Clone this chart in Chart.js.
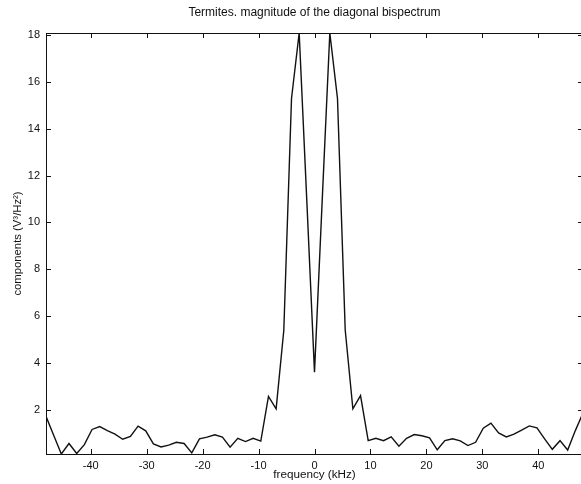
<!DOCTYPE html>
<html>
<head>
<meta charset="utf-8">
<title>Termites - diagonal bispectrum</title>
<script src="https://cdn.jsdelivr.net/npm/chart.js@4.4.1/dist/chart.umd.min.js"></script>
<style>
  html, body { margin: 0; padding: 0; background: #fff; overflow: hidden; }
  #wrap { width: 581px; height: 484px; overflow: hidden; }
</style>
</head>
<body>
<div id="wrap"><canvas id="bispectrumChart" width="600" height="484"></canvas></div>
<script>
// Values (kHz / V^3/Hz^2)
const frequency = [
  -48, -46.63, -45.26, -43.89, -42.51, -41.14, -39.77, -38.4, -37.03, -35.66,
  -34.29, -32.91, -31.54, -30.17, -28.8, -27.43, -26.06, -24.69, -23.31, -21.94,
  -20.57, -19.2, -17.83, -16.46, -15.09, -13.71, -12.34, -10.97, -9.6, -8.23,
  -6.86, -5.49, -4.11, -2.74, -1.37, 0, 1.37, 2.74, 4.11, 5.49,
  6.86, 8.23, 9.6, 10.97, 12.34, 13.71, 15.09, 16.46, 17.83, 19.2,
  20.57, 21.94, 23.31, 24.69, 26.06, 27.43, 28.8, 30.17, 31.54, 32.91,
  34.29, 35.66, 37.03, 38.4, 39.77, 41.14, 42.51, 43.89, 45.26, 46.63,
  48
];

const magnitude = [
  1.71, 0.9, 0.1, 0.55, 0.12, 0.5, 1.15, 1.27, 1.1, 0.95,
  0.73, 0.85, 1.29, 1.09, 0.53, 0.4, 0.48, 0.6, 0.55, 0.15,
  0.75, 0.82, 0.92, 0.82, 0.39, 0.77, 0.63, 0.77, 0.65, 2.56,
  2.03, 5.38, 15.3, 18.1, 10.9, 3.6, 10.9, 18.1, 15.3, 5.4,
  2.03, 2.6, 0.67, 0.77, 0.67, 0.83, 0.43, 0.77, 0.93, 0.88,
  0.79, 0.28, 0.67, 0.75, 0.66, 0.46, 0.6, 1.2, 1.42, 1.0,
  0.83, 0.95, 1.12, 1.3, 1.22, 0.75, 0.3, 0.67, 0.27, 1.1,
  1.85
];

const xTicks = [-40, -30, -20, -10, 0, 10, 20, 30, 40];
const yTicks = [2, 4, 6, 8, 10, 12, 14, 16, 18];

const chartTitle = 'Termites. magnitude of the diagonal bispectrum';
const xLabel = 'frequency (kHz)';
const yLabel = 'components (V³/Hz²)';

const ink = '#111';
const fontFamily = '"Liberation Sans", Arial, Helvetica, sans-serif';

Chart.defaults.font.family = fontFamily;
Chart.defaults.font.size = 11;
Chart.defaults.color = ink;

// Matlab style box: frame, inward ticks on all sides, titles
const matlabFrame = {
  id: 'matlabFrame',
  afterDraw(chart) {
    const { ctx, chartArea: a, scales } = chart;
    const tick = 5;
    ctx.save();
    ctx.strokeStyle = ink;
    ctx.lineWidth = 1;
    ctx.strokeRect(a.left + 0.5, a.top + 0.5, a.right - a.left, a.bottom - a.top);

    ctx.beginPath();
    xTicks.forEach(v => {
      const px = Math.round(scales.x.getPixelForValue(v)) + 0.5;
      ctx.moveTo(px, a.bottom); ctx.lineTo(px, a.bottom - tick);
      ctx.moveTo(px, a.top); ctx.lineTo(px, a.top + tick);
    });
    yTicks.forEach(v => {
      const py = Math.round(scales.y.getPixelForValue(v)) + 0.5;
      ctx.moveTo(a.left, py); ctx.lineTo(a.left + tick, py);
      ctx.moveTo(a.right, py); ctx.lineTo(a.right - tick, py);
    });
    ctx.stroke();

    const cx = (a.left + a.right) / 2;
    ctx.fillStyle = ink;
    ctx.textAlign = 'center';
    ctx.textBaseline = 'middle';
    ctx.font = '12px ' + fontFamily;
    ctx.fillText(chartTitle, cx, 13);
    ctx.font = '11.7px ' + fontFamily;
    ctx.fillText(xLabel, cx, 475);

    ctx.font = '11.3px ' + fontFamily;
    ctx.translate(18, (a.top + a.bottom) / 2);
    ctx.rotate(-Math.PI / 2);
    ctx.fillText(yLabel, 0, 0);
    ctx.restore();
  }
};

const ctx = document.getElementById('bispectrumChart').getContext('2d');
new Chart(ctx, {
  type: 'line',
  data: {
    datasets: [{
      data: frequency.map((f, i) => ({ x: f, y: magnitude[i] })),
      borderColor: ink,
      borderWidth: 1.4,
      pointRadius: 0,
      tension: 0,
      fill: false
    }]
  },
  options: {
    responsive: false,
    animation: false,
    devicePixelRatio: 1,
    layout: { padding: { top: 33, right: 17, bottom: 0, left: 0 } },
    plugins: {
      legend: { display: false },
      tooltip: { enabled: false }
    },
    scales: {
      x: {
        type: 'linear',
        min: -48,
        max: 48,
        afterBuildTicks: scale => { scale.ticks = xTicks.map(v => ({ value: v })); },
        afterFit: scale => { scale.height = 30; },
        grid: { display: false, drawTicks: false },
        border: { display: false },
        ticks: { padding: 5, maxRotation: 0, color: ink }
      },
      y: {
        type: 'linear',
        min: 0.1,
        max: 18.1,
        afterBuildTicks: scale => { scale.ticks = yTicks.map(v => ({ value: v })); },
        afterFit: scale => { scale.width = 46; },
        grid: { display: false, drawTicks: false },
        border: { display: false },
        ticks: { padding: 6, color: ink }
      }
    }
  },
  plugins: [matlabFrame]
});
</script>
</body>
</html>
